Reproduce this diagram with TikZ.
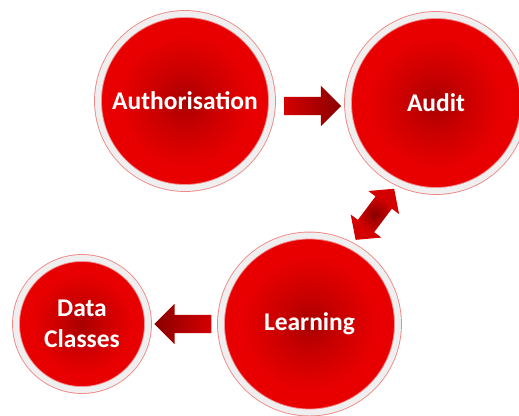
\documentclass[tikz,border=0pt]{standalone}
\usepackage{fontspec}
\setmainfont{Carlito}
\usetikzlibrary{shapes.arrows}

\definecolor{balldark}{HTML}{A80000}
\definecolor{ballmid}{HTML}{C80000}
\definecolor{ballred}{HTML}{E80000}
\definecolor{ringwhite}{HTML}{EFEFEF}
\definecolor{ringpink}{HTML}{F08888}
\definecolor{arrowlight}{HTML}{D40000}
\definecolor{arrowdark}{HTML}{8A0000}

% dark core fading out to bright red towards the rim (rim sits at 25bp)
\pgfdeclareradialshading{redball}{\pgfpoint{0bp}{0bp}}{%
  color(0bp)=(balldark); color(8bp)=(ballmid); color(19bp)=(ballred); color(50bp)=(ballred)}
% two-way arrow: darkest in its middle
\pgfdeclareradialshading{redknot}{\pgfpoint{0bp}{0bp}}{%
  color(0bp)=(arrowdark); color(18bp)=(arrowlight); color(50bp)=(arrowlight)}

\begin{document}
\begin{tikzpicture}[x=1pt,y=-1pt,
  ball/.style={circle, inner sep=0pt, minimum size=#1, shading=redball,
    draw=ringpink, line width=0.9pt, double=ringwhite, double distance=6pt,
    text=white, font=\fontsize{25.5}{31}\selectfont\bfseries, align=center},
  flow/.style={single arrow, draw=none, inner sep=0pt,
    text height=9pt, text depth=9pt,
    minimum height=57pt, minimum width=40pt,
    single arrow head extend=11pt, single arrow tip angle=90},
  swap/.style={double arrow, draw=none, inner sep=0pt,
    text height=10pt, text depth=10pt,
    minimum height=64pt, minimum width=38pt,
    double arrow head extend=9pt, double arrow tip angle=96,
    shading=redknot}
]
\useasboundingbox (0,0) rectangle (519,415);

% the four stages
\node[ball=174pt] (auth)  at (185,101)   {Authorisation};
\node[ball=176pt] (audit) at (436,103)   {Audit};
\node[ball=177pt] (learn) at (309.5,324) {Learning};
\node[ball=132pt] (data)  at (82,324)    {Data\\Classes};

% block arrows between the stages
\path (auth) -- (audit)
  node[midway, xshift=-2pt, yshift=-4pt, flow,
       left color=arrowlight, right color=arrowdark] (a1) {};
\path (learn) -- (data)
  node[midway, xshift=3pt, flow, shape border rotate=180,
       left color=arrowdark, right color=arrowlight] (a2) {};
\path (audit) -- (learn)
  node[midway, xshift=2pt, yshift=-1pt, swap, rotate=53] (a3) {};
\end{tikzpicture}
\end{document}
